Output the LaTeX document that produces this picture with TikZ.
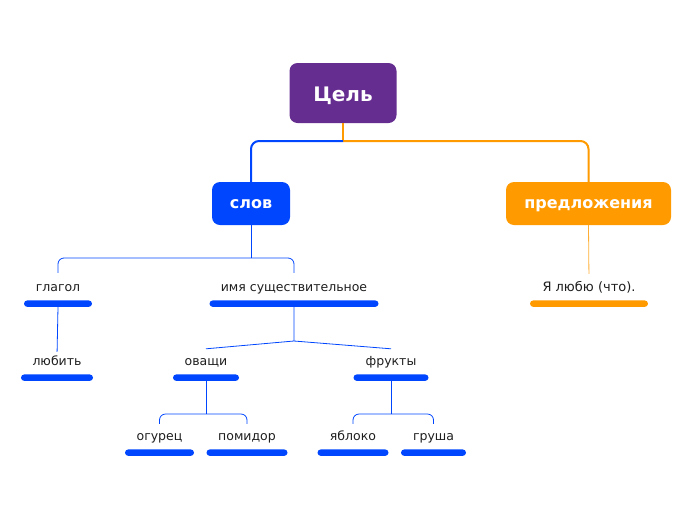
\documentclass[tikz,border=0pt]{standalone}
\usepackage{fontspec}
\setmainfont{DejaVu Sans}
\usetikzlibrary{positioning}
\definecolor{goalpurple}{HTML}{662D91}
\definecolor{wordblue}{HTML}{0046FF}
\definecolor{sentorange}{HTML}{FF9A00}
\definecolor{labelgray}{HTML}{1E1E1E}
\tikzset{
  mainbox/.style={rounded corners=8pt, text=white, inner sep=0pt, text height=10pt, text depth=0pt},
  topic/.style={text=labelgray, font=\fontsize{12.5}{14}\selectfont, inner sep=0pt, text height=9pt, text depth=3pt},
  bar/.style={fill=wordblue, rounded corners=3.25pt, minimum height=6.5pt, inner sep=0pt, below=6pt of #1},
  link/.style={wordblue, line width=0.8pt},
}

\begin{document}
\begin{tikzpicture}[x=1pt,y=-1pt]
  \useasboundingbox (0,0) rectangle (696,520);

  % main topics
  \node[mainbox, fill=goalpurple, minimum width=107pt, minimum height=60pt, text height=16.5pt, font=\bfseries\fontsize{20}{24}\selectfont] (cel) at (343,93) {Цель};
  \node[mainbox, fill=wordblue, minimum width=78pt, minimum height=43pt, font=\bfseries\fontsize{16}{18}\selectfont] (slov) at (251,203.5) {слов};
  \node[mainbox, fill=sentorange, minimum width=165pt, minimum height=43pt, font=\bfseries\fontsize{16}{18}\selectfont] (predl) at (588.5,203.5) {предложения};

  \coordinate (fork) at (343,141);
  \draw[sentorange, line width=2pt] (cel.south) -- (fork);
  \draw[sentorange, line width=2pt, rounded corners=8pt] (fork) -| (predl.north);
  \draw[wordblue, line width=2pt, rounded corners=8pt] (fork) -| (slov.north);

  % subtopics
  \node[topic] (glagol) at (58,288) {глагол};
  \node[bar=glagol, minimum width=68pt] (glagol bar) {};
  \node[topic] (noun) at (294,288) {имя существительное};
  \node[bar=noun, minimum width=169pt] (noun bar) {};
  \node[topic, font=\fontsize{13}{14}\selectfont] (love) at (589,288) {Я любю (что).};
  \node[bar=love, minimum width=118pt, fill=sentorange] (love bar) {};

  \node[topic] (lyubit) at (57,362) {любить};
  \node[bar=lyubit, minimum width=72pt] (lyubit bar) {};
  \node[topic] (ovoshi) at (206,362) {оващи};
  \node[bar=ovoshi, minimum width=66pt] (ovoshi bar) {};
  \node[topic] (frukty) at (391,362) {фрукты};
  \node[bar=frukty, minimum width=75pt] (frukty bar) {};

  \node[topic] (ogurec) at (159.5,437) {огурец};
  \node[bar=ogurec, minimum width=69pt] (ogurec bar) {};
  \node[topic] (pomidor) at (247,437) {помидор};
  \node[bar=pomidor, minimum width=81pt] (pomidor bar) {};
  \node[topic] (yabloko) at (353,437) {яблоко};
  \node[bar=yabloko, minimum width=71pt] (yabloko bar) {};
  \node[topic] (grusha) at (433.5,437) {груша};
  \node[bar=grusha, minimum width=65pt] (grusha bar) {};

  % connectors
  \coordinate (slov fork) at (251,258);
  \draw[link] (slov.south) -- (slov fork);
  \draw[link, rounded corners=6pt, shorten >=9pt] (slov fork) -| (glagol.north);
  \draw[link, rounded corners=6pt, shorten >=9pt] (slov fork) -| (noun.north);
  \draw[sentorange!80, line width=0.8pt, shorten >=8pt] (predl.south) -- (love.north);

  \draw[link, shorten >=4pt] (glagol bar.south) -- (lyubit.north);

  \coordinate (noun fork) at (294,341);
  \draw[link] (noun bar.south) -- (noun fork) -- ([yshift=7pt]ovoshi.north);
  \draw[link] (noun fork) -- ([yshift=7pt]frukty.north);

  \coordinate (ovoshi fork) at (206,414);
  \draw[link] (ovoshi bar.south) -- (ovoshi fork);
  \draw[link, rounded corners=6pt, shorten >=7pt] (ovoshi fork) -| (ogurec.north);
  \draw[link, rounded corners=6pt, shorten >=7pt] (ovoshi fork) -| (pomidor.north);

  \coordinate (frukty fork) at (391,414);
  \draw[link] (frukty bar.south) -- (frukty fork);
  \draw[link, rounded corners=6pt, shorten >=7pt] (frukty fork) -| (yabloko.north);
  \draw[link, rounded corners=6pt, shorten >=7pt] (frukty fork) -| (grusha.north);
\end{tikzpicture}
\end{document}
